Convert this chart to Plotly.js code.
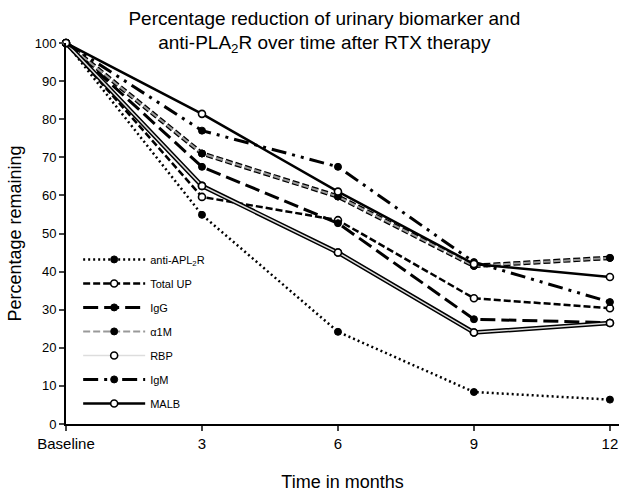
<!DOCTYPE html>
<html>
<head>
<meta charset="utf-8">
<script src="https://cdn.plot.ly/plotly-3.0.1.min.js"></script>
<style>html,body{margin:0;padding:0;background:#fff;}#chart{width:619px;height:492px;}</style>
</head>
<body>
<div id="chart"></div>
<script>
const months = [0, 3, 6, 9, 12];
const tickLabels = ["Baseline", "3", "6", "9", "12"];
const antiPLA2R = [100, 54.9, 24.2, 8.4, 6.4];
const totalUP = [100, 59.6, 53.5, 33.0, 30.4];
const igG = [100, 67.5, 52.7, 27.5, 26.6];
const a1M = [100, 71.0, 59.7, 41.5, 43.6];
const rbp = [100, 62.5, 45.0, 24.0, 26.5];
const igM = [100, 77.0, 67.5, 42.5, 32.0];
const malb = [100, 81.4, 61.0, 42.0, 38.6];

const filled = {size: 7, color: '#000', line: {color: '#000', width: 1}};
const open = {size: 7, color: '#fff', line: {color: '#000', width: 1.6}};

function tr(name, y, line, marker, extra) {
  return Object.assign({
    x: months, y: y, name: name, mode: 'lines+markers', type: 'scatter',
    line: line, marker: marker, cliponaxis: false, legendgroup: name
  }, extra || {});
}

const traces = [
  tr('anti-APL<sub>2</sub>R', antiPLA2R, {color: '#000', width: 2.5, dash: '2px,3px'}, filled),
  tr('Total UP', totalUP, {color: '#000', width: 2.5, dash: '7px,3px'}, open),
  tr('IgG', igG, {color: '#000', width: 3, dash: '15px,6px'}, filled),
  tr('α1M_o', a1M, {color: '#000', width: 4.5, dash: '7px,3px'}, filled, {showlegend: false, legendgroup: 'α1M'}),
  tr('α1M', a1M, {color: '#999', width: 2, dash: '7px,3px'}, filled),
  tr('RBP_o', rbp, {color: '#000', width: 4.5}, open, {showlegend: false, legendgroup: 'RBP'}),
  tr('RBP', rbp, {color: '#ddd', width: 1.5}, open),
  tr('IgM', igM, {color: '#000', width: 3, dash: '15px,6px,3px,6px,3px,6px'}, filled),
  tr('MALB', malb, {color: '#000', width: 2.5}, open)
];

const font = 'Liberation Sans, Arial, sans-serif';
const layout = {
  width: 619, height: 492,
  margin: {l: 66, r: 0, t: 43, b: 68},
  paper_bgcolor: '#fff', plot_bgcolor: '#fff',
  font: {family: font, color: '#000', size: 12},
  title: {text: 'Percentage reduction of urinary biomarker and<br>anti-PLA<sub>2</sub>R over time after RTX therapy',
          x: 0.524, xanchor: 'center', yref: 'container', y: 0.95, yanchor: 'middle', font: {size: 19, family: font}},
  xaxis: {range: [0, 12.2], tickvals: months, ticktext: tickLabels, showgrid: false, zeroline: false,
          showline: true, linecolor: '#000', linewidth: 2, ticks: 'outside', ticklen: 5, tickwidth: 2,
          tickfont: {size: 15}, title: {text: 'Time in months', font: {size: 18}, standoff: 26}},
  yaxis: {range: [0, 100], dtick: 10, showgrid: false, zeroline: false,
          showline: true, linecolor: '#000', linewidth: 2, ticks: 'outside', ticklen: 5, tickwidth: 2,
          tickfont: {size: 13}, title: {text: 'Percentage remaining', font: {size: 18}, standoff: 8}},
  showlegend: true,
  legend: {x: 0.022, y: 0.47, xanchor: 'left', yanchor: 'top', bgcolor: 'rgba(0,0,0,0)',
           font: {size: 11, family: font}, itemwidth: 62, tracegroupgap: 5}
};

Plotly.newPlot('chart', traces, layout, {displayModeBar: false, staticPlot: true});
</script>
</body>
</html>
